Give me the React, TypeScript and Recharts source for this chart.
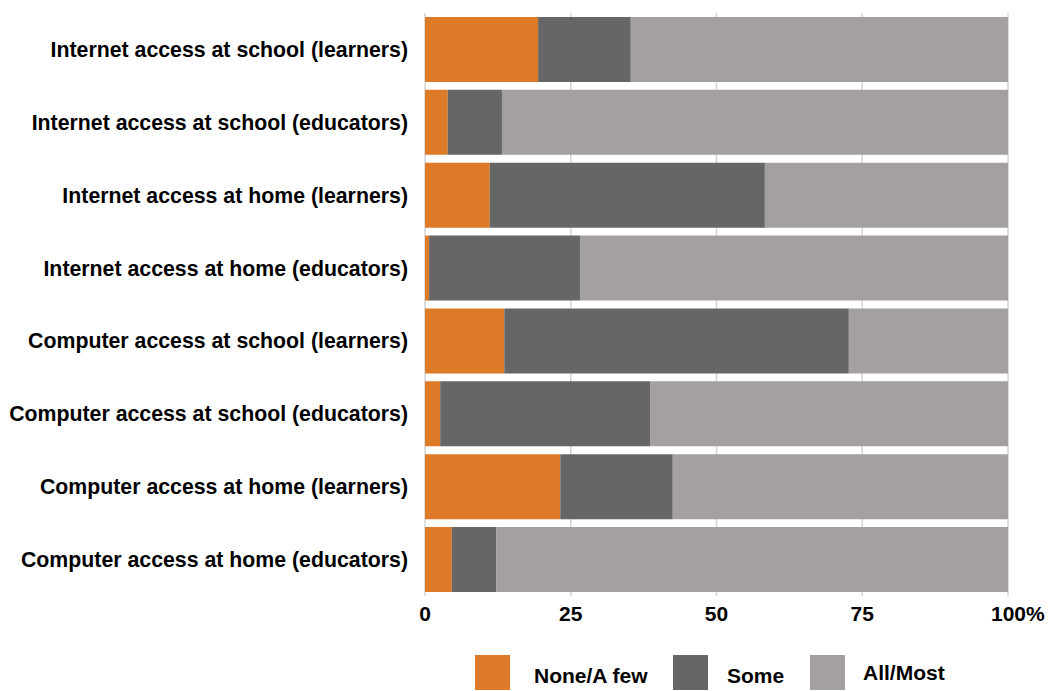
import { BarChart, Bar, XAxis, YAxis, CartesianGrid, Legend } from 'recharts';

// Category labels (top to bottom)
const categories = [
  'Internet access at school (learners)',
  'Internet access at school (educators)',
  'Internet access at home (learners)',
  'Internet access at home (educators)',
  'Computer access at school (learners)',
  'Computer access at school (educators)',
  'Computer access at home (learners)',
  'Computer access at home (educators)',
];

// Shares in percent
const noneFew = [19.4, 3.9, 11.1, 0.7, 13.6, 2.6, 23.2, 4.6];
const some = [15.9, 9.3, 47.2, 25.9, 59.1, 36.0, 19.3, 7.6];
const allMost = [64.7, 86.8, 41.7, 73.4, 27.3, 61.4, 57.5, 87.8];

const xTicks = [0, 25, 50, 75, 100];

const seriesNames = ['None/A few', 'Some', 'All/Most'];
const COLORS = ['#DD7A28', '#666666', '#A4A09F'];

const data = categories.map((name, i) => ({
  name,
  none: noneFew[i],
  some: some[i],
  all: allMost[i],
}));

const FONT = '"Liberation Sans", Arial, sans-serif';

const XTick = (props: any) => {
  const { x, y, payload } = props;
  const label = String(payload.value);
  if (payload.value === 100) {
    // "100" centred on the gridline, "%" hangs off the right
    return (
      <text x={x - 17} y={y} dy="0.71em" textAnchor="start" fontFamily={FONT} fontWeight="bold" fontSize={21} fill="#000">
        100%
      </text>
    );
  }
  return (
    <text x={x} y={y} dy="0.71em" textAnchor="middle" fontFamily={FONT} fontWeight="bold" fontSize={21} fill="#000">
      {label}
    </text>
  );
};

const legendSquareX = [475, 673, 810];
const legendTextX = [534, 727, 863];

const renderLegend = () => (
  <svg width={1050} height={41}>
    {seriesNames.map((name, i) => (
      <g key={name}>
        <rect x={legendSquareX[i]} y={0} width={35} height={35} fill={COLORS[i]} />
        <text
          x={legendTextX[i]}
          y={i === 2 ? 19 : 22}
          dominantBaseline="middle"
          fontFamily={FONT}
          fontWeight="bold"
          fontSize={21}
          fill="#000"
        >
          {name}
        </text>
      </g>
    ))}
  </svg>
);

const App = () => {
  return (
    <div style={{ position: 'absolute', left: 0, top: 0 }}>
      <BarChart
        width={1050}
        height={691}
        data={data}
        layout="vertical"
        margin={{ top: 13, right: 42, left: 0, bottom: 65 }}
        barCategoryGap="5.4%"
      >
        <CartesianGrid horizontal={false} stroke="#D4D4D4" strokeWidth={1.5} />
        <XAxis
          type="number"
          domain={[0, 100]}
          ticks={xTicks}
          axisLine={false}
          tickLine={false}
          tickSize={0}
          tickMargin={10}
          height={30}
          interval={0}
          tick={<XTick />}
        />
        <YAxis
          type="category"
          dataKey="name"
          width={425}
          axisLine={false}
          tickLine={false}
          tickSize={0}
          tickMargin={17}
          interval={0}
          tick={{ fontFamily: FONT, fontWeight: 'bold', fontSize: 21.3, fill: '#000' }}
        />
        <Legend
          layout="horizontal"
          verticalAlign="middle"
          align="center"
          content={renderLegend}
          wrapperStyle={{ position: 'absolute', left: 0, top: 655, width: 1050, height: 41 }}
        />
        <Bar dataKey="none" name={seriesNames[0]} stackId="a" fill={COLORS[0]} isAnimationActive={false} />
        <Bar dataKey="some" name={seriesNames[1]} stackId="a" fill={COLORS[1]} isAnimationActive={false} />
        <Bar dataKey="all" name={seriesNames[2]} stackId="a" fill={COLORS[2]} isAnimationActive={false} />
      </BarChart>
    </div>
  );
};

export default App;
